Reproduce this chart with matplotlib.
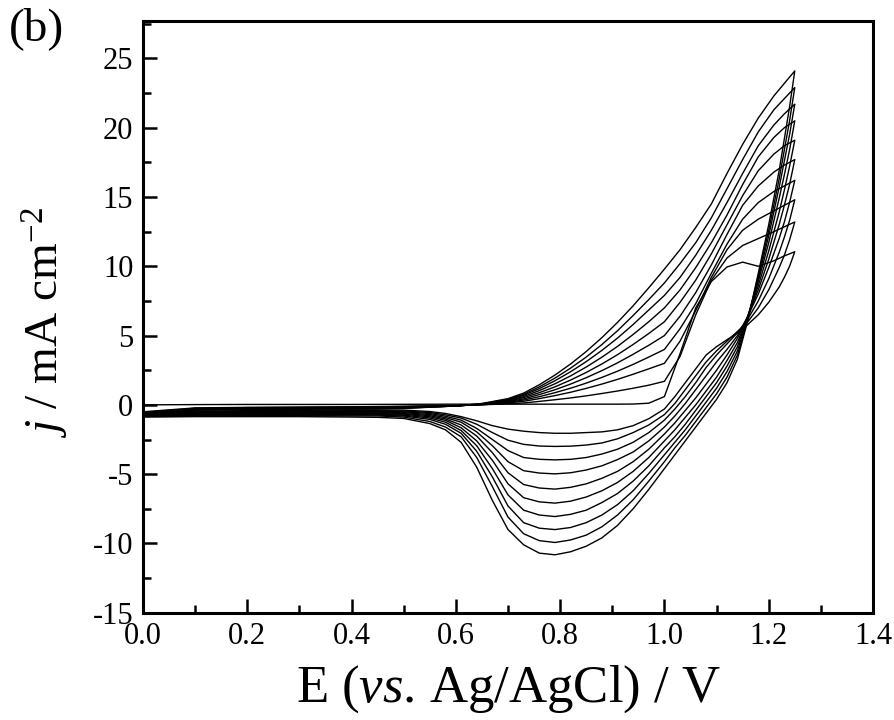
import matplotlib
matplotlib.use("Agg")
import matplotlib.pyplot as plt
from matplotlib.ticker import MultipleLocator, FormatStrFormatter

plt.rcParams['font.family'] = ['Liberation Serif', 'DejaVu Serif']
plt.rcParams['mathtext.fontset'] = 'custom'
plt.rcParams['mathtext.rm'] = 'Liberation Serif'
plt.rcParams['mathtext.it'] = 'Liberation Serif:italic'
plt.rcParams['axes.unicode_minus'] = False

# potential grids (V vs Ag/AgCl)
E_fwd = [0.00, 0.10, 0.20, 0.30, 0.40, 0.50, 0.60, 0.65, 0.70, 0.73, 0.76, 0.79,
         0.82, 0.85, 0.88, 0.91, 0.94, 0.97, 1.00, 1.03, 1.06, 1.09, 1.12, 1.15,
         1.18, 1.21, 1.23, 1.25]
E_rev = [1.25, 1.24, 1.23, 1.22, 1.20, 1.18, 1.16, 1.14, 1.12, 1.10, 1.08, 1.06,
         1.04, 1.02, 1.00, 0.97, 0.94, 0.91, 0.88, 0.85, 0.82, 0.79, 0.76, 0.73,
         0.70, 0.67, 0.64, 0.61, 0.58, 0.55, 0.50, 0.45, 0.40, 0.30, 0.20, 0.10, 0.00]

# anodic sweeps, cycles 1..10 (mA cm-2)
fwd_1 = [0.00, 0.02, 0.03, 0.03, 0.03, 0.04, 0.05, 0.05, 0.05, 0.05, 0.05, 0.05,
         0.05, 0.05, 0.05, 0.05, 0.06, 0.12, 0.6, 3.7, 7.0, 8.9, 9.95, 10.3,
         10.0, 10.4, 10.75, 11.05]
fwd_2 = [-0.5, -0.22, -0.18, -0.16, -0.14, -0.1, -0.04, 0.0, 0.08, 0.14, 0.25, 0.37,
         0.5, 0.65, 0.82, 1.0, 1.2, 1.42, 1.7, 3.5, 6.5, 9.0, 10.6, 11.5,
         12.0, 12.5, 12.85, 13.2]
fwd_3 = [-0.55, -0.24, -0.2, -0.18, -0.16, -0.12, -0.05, 0.01, 0.14, 0.26, 0.45, 0.67,
         0.91, 1.19, 1.5, 1.84, 2.21, 2.6, 3.0, 4.6, 6.8, 9.2, 11.2, 12.6,
         13.4, 14.0, 14.4, 14.8]
fwd_4 = [-0.6, -0.26, -0.22, -0.2, -0.18, -0.14, -0.06, 0.02, 0.18, 0.35, 0.59, 0.88,
         1.2, 1.57, 1.98, 2.43, 2.92, 3.45, 4.0, 5.5, 7.3, 9.5, 11.6, 13.4,
         14.6, 15.4, 15.8, 16.2]
fwd_5 = [-0.64, -0.28, -0.24, -0.22, -0.2, -0.16, -0.07, 0.03, 0.23, 0.43, 0.74, 1.09,
         1.5, 1.96, 2.47, 3.03, 3.65, 4.3, 5.0, 6.4, 8.1, 10.1, 12.3, 14.4,
         15.8, 16.8, 17.3, 17.7]
fwd_6 = [-0.68, -0.3, -0.26, -0.24, -0.22, -0.18, -0.08, 0.04, 0.27, 0.52, 0.88, 1.3,
         1.79, 2.34, 2.95, 3.62, 4.36, 5.15, 6.0, 7.4, 9.0, 10.9, 13.0, 15.1,
         16.9, 18.1, 18.7, 19.1]
fwd_7 = [-0.72, -0.32, -0.28, -0.26, -0.24, -0.2, -0.08, 0.05, 0.32, 0.6, 1.03, 1.52,
         2.09, 2.73, 3.44, 4.22, 5.08, 6.0, 7.0, 8.3, 9.9, 11.7, 13.7, 15.9,
         17.9, 19.3, 20.0, 20.5]
fwd_8 = [-0.76, -0.34, -0.3, -0.28, -0.26, -0.22, -0.08, 0.06, 0.36, 0.69, 1.17, 1.74,
         2.39, 3.12, 3.93, 4.82, 5.8, 6.85, 7.9, 9.2, 10.8, 12.6, 14.6, 16.7,
         18.7, 20.2, 21.0, 21.7]
fwd_9 = [-0.8, -0.36, -0.32, -0.3, -0.28, -0.24, -0.08, 0.08, 0.4, 0.76, 1.3, 1.93,
         2.65, 3.45, 4.35, 5.35, 6.45, 7.6, 8.8, 10.2, 11.7, 13.5, 15.6, 17.7,
         19.7, 21.3, 22.1, 22.9]
fwd_10 = [-0.84, -0.38, -0.34, -0.32, -0.3, -0.26, -0.08, 0.1, 0.45, 0.85, 1.45, 2.15,
          2.95, 3.85, 4.85, 5.95, 7.15, 8.45, 9.8, 11.2, 12.8, 14.5, 16.7, 18.8,
          20.7, 22.3, 23.2, 24.1]

# cathodic sweeps, cycles 1..10
rev_1 = [11.05, 10.0, 9.2, 8.5, 7.4, 6.5, 5.8, 5.2, 4.7, 4.2, 3.6, 2.6, 1.6, 0.6, -0.3,
         -1.0, -1.5, -1.8, -1.95, -2.0, -2.05, -2.05, -2.0, -1.9, -1.75, -1.5, -1.15,
         -0.85, -0.62, -0.48, -0.38, -0.36, -0.36, -0.4, -0.42, -0.45, -0.5]
rev_2 = [13.2, 11.9, 10.8, 9.9, 8.3, 7.0, 6.0, 5.3, 4.6, 3.9, 3.1, 2.1, 1.1, 0.1, -0.7,
         -1.45, -2.0, -2.45, -2.75, -2.9, -2.98, -3.0, -2.97, -2.85, -2.55, -2.0, -1.4,
         -0.95, -0.72, -0.55, -0.44, -0.42, -0.42, -0.45, -0.47, -0.5, -0.55]
rev_3 = [14.8, 13.3, 12.1, 11.0, 9.1, 7.5, 6.2, 5.2, 4.4, 3.6, 2.7, 1.6, 0.6, -0.3, -1.1,
         -2.0, -2.7, -3.2, -3.55, -3.8, -3.93, -3.97, -3.93, -3.8, -3.3, -2.5, -1.7,
         -1.1, -0.82, -0.62, -0.5, -0.48, -0.48, -0.5, -0.52, -0.55, -0.6]
rev_4 = [16.2, 14.6, 13.2, 12.0, 9.9, 8.0, 6.4, 5.0, 4.0, 3.1, 2.1, 1.1, 0.1, -0.8, -1.6,
         -2.6, -3.4, -3.95, -4.4, -4.7, -4.9, -4.98, -4.92, -4.75, -4.1, -2.95, -1.95,
         -1.25, -0.92, -0.7, -0.56, -0.53, -0.53, -0.55, -0.57, -0.6, -0.64]
rev_5 = [17.7, 15.9, 14.4, 13.0, 10.5, 8.3, 6.4, 4.8, 3.6, 2.5, 1.5, 0.5, -0.4, -1.3, -2.1,
         -3.2, -4.1, -4.8, -5.3, -5.7, -5.95, -6.08, -6.0, -5.75, -4.9, -3.45, -2.25,
         -1.45, -1.02, -0.78, -0.62, -0.58, -0.58, -0.6, -0.62, -0.65, -0.68]
rev_6 = [19.1, 17.2, 15.5, 13.9, 11.1, 8.6, 6.4, 4.5, 3.2, 2.0, 1.0, 0.0, -0.9, -1.8, -2.6,
         -3.8, -4.8, -5.6, -6.2, -6.65, -6.95, -7.09, -7.0, -6.7, -5.7, -4.0, -2.6,
         -1.65, -1.12, -0.86, -0.68, -0.63, -0.63, -0.65, -0.67, -0.7, -0.72]
rev_7 = [20.5, 18.4, 16.6, 14.9, 11.7, 8.9, 6.4, 4.2, 2.8, 1.6, 0.6, -0.4, -1.4, -2.3, -3.1,
         -4.4, -5.5, -6.4, -7.05, -7.6, -7.9, -8.06, -7.95, -7.6, -6.5, -4.6, -2.95,
         -1.85, -1.25, -0.95, -0.74, -0.68, -0.68, -0.7, -0.72, -0.74, -0.76]
rev_8 = [21.7, 19.5, 17.6, 15.7, 12.2, 9.1, 6.3, 3.9, 2.4, 1.2, 0.2, -0.8, -1.8, -2.7, -3.6,
         -4.95, -6.2, -7.2, -7.95, -8.5, -8.85, -9.0, -8.9, -8.5, -7.3, -5.2, -3.35,
         -2.05, -1.4, -1.05, -0.8, -0.74, -0.74, -0.75, -0.77, -0.78, -0.8]
rev_9 = [22.9, 20.5, 18.4, 16.3, 12.6, 9.3, 6.2, 3.6, 2.0, 0.8, -0.2, -1.2, -2.2, -3.1, -4.1,
         -5.5, -6.85, -7.95, -8.8, -9.4, -9.75, -9.93, -9.8, -9.3, -8.1, -5.9, -3.8,
         -2.3, -1.6, -1.2, -0.88, -0.8, -0.8, -0.8, -0.82, -0.82, -0.84]
rev_10 = [24.1, 21.5, 19.2, 16.9, 13.0, 9.5, 6.1, 3.3, 1.6, 0.4, -0.6, -1.6, -2.6, -3.6, -4.6,
          -6.1, -7.5, -8.7, -9.6, -10.2, -10.6, -10.82, -10.7, -10.1, -9.0, -6.9, -4.5,
          -2.7, -1.8, -1.35, -0.98, -0.9, -0.88, -0.85, -0.85, -0.85, -0.88]

fwd = [fwd_1, fwd_2, fwd_3, fwd_4, fwd_5, fwd_6, fwd_7, fwd_8, fwd_9, fwd_10]
rev = [rev_1, rev_2, rev_3, rev_4, rev_5, rev_6, rev_7, rev_8, rev_9, rev_10]

fig = plt.figure(figsize=(8.94, 7.2), dpi=100)
ax = fig.add_axes([0.160, 0.149, 0.8165, 0.8218])

for jf, jr in zip(fwd, rev):
    ax.plot(E_fwd + E_rev, jf + jr, color='black', lw=1.0)

ax.set_xlim(0.0, 1.4)
ax.set_ylim(-15, 27.7)
ax.xaxis.set_major_locator(MultipleLocator(0.2))
ax.xaxis.set_minor_locator(MultipleLocator(0.1))
ax.xaxis.set_major_formatter(FormatStrFormatter('%.1f'))
ax.yaxis.set_major_locator(MultipleLocator(5))
ax.yaxis.set_minor_locator(MultipleLocator(2.5))

ax.tick_params(which='both', direction='in', top=False, right=False,
               labelsize=22, width=1.8)
ax.tick_params(which='major', length=10, pad=7)
ax.tick_params(which='minor', length=6)
for s in ax.spines.values():
    s.set_linewidth(2.2)

ax.set_xlabel(r'E ($\mathit{vs}$. Ag/AgCl) / V', fontsize=38, va='center')
ax.xaxis.set_label_coords(0.5, -0.13)
ax.set_ylabel(r'$\mathit{j}$ / mA cm$^{\mathrm{-2}}$', fontsize=34, va='center')
ax.yaxis.set_label_coords(-0.134, 0.49)
fig.text(0.010, 0.99, '(b)', fontsize=34, va='top', ha='left')

fig.savefig('out.png', dpi=100)
